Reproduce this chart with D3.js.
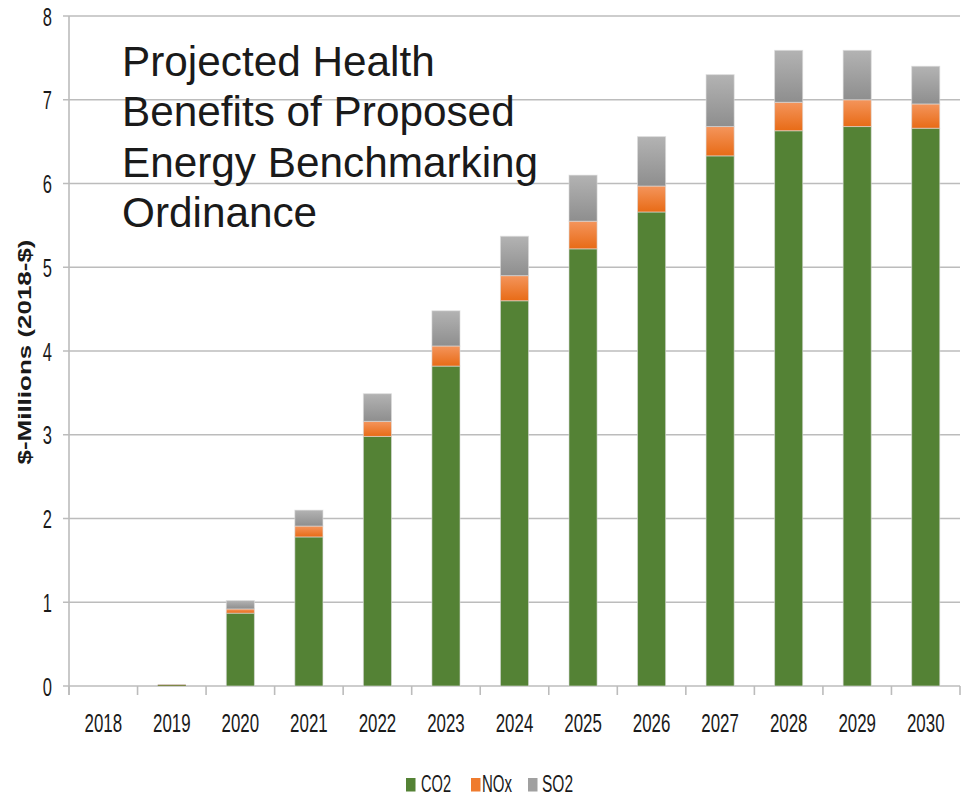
<!DOCTYPE html>
<html>
<head>
<meta charset="utf-8">
<script src="https://cdn.jsdelivr.net/npm/d3@7"></script>
<style>
  html, body { margin: 0; padding: 0; background: #fff; }
  svg { display: block; }
  text { font-family: "Liberation Sans", Arial, sans-serif; fill: #1a1a1a; }
</style>
</head>
<body>
<svg id="chart" width="961" height="800"></svg>
<script>
// ---- Data ----
const years = ["2018","2019","2020","2021","2022","2023","2024","2025","2026","2027","2028","2029","2030"];
const co2 = [0, 0.01, 0.87, 1.78, 2.98, 3.82, 4.60, 5.22, 5.66, 6.33, 6.63, 6.68, 6.66];
const nox = [0, 0.005, 0.05, 0.13, 0.18, 0.24, 0.30, 0.33, 0.31, 0.35, 0.34, 0.32, 0.29];
const so2 = [0, 0.005, 0.10, 0.19, 0.33, 0.42, 0.47, 0.55, 0.59, 0.62, 0.62, 0.59, 0.45];
const seriesNames = ["CO2", "NOx", "SO2"];
const yTicks = [0, 1, 2, 3, 4, 5, 6, 7, 8];
const titleLines = ["Projected Health", "Benefits of Proposed", "Energy Benchmarking", "Ordinance"];
const yTitle = "$-Millions (2018-$)";

(function () {
// ---- Setup ----
const svg = d3.select("#chart");
const pLeft = 69, pRight = 960, pTop = 16, pBottom = 686;
const gridColor = "#bcbcbc";

const x = d3.scaleBand().domain(years).range([pLeft, pRight]).paddingInner(0.59).paddingOuter(0.295);
const y = d3.scaleLinear().domain([0, 8]).range([pBottom, pTop]);

const defs = svg.append("defs");
function grad(id, c1, c2) {
  const g = defs.append("linearGradient").attr("id", id).attr("x1", 0).attr("y1", 0).attr("x2", 0).attr("y2", 1);
  g.append("stop").attr("offset", "0%").attr("stop-color", c1);
  g.append("stop").attr("offset", "100%").attr("stop-color", c2);
}
grad("gCO2", "#548235", "#548235");
grad("gNOx", "#f4955c", "#e86b16");
grad("gSO2", "#b3b3b3", "#8e8e8e");
const fills = {CO2: "url(#gCO2)", NOx: "url(#gNOx)", SO2: "url(#gSO2)"};
const legendColors = {CO2: "#548235", NOx: "#ef7b2e", SO2: "#a0a0a0"};

// gridlines
svg.append("g").selectAll("line").data(yTicks).join("line")
  .attr("x1", pLeft - 6).attr("x2", pRight)
  .attr("y1", d => y(d)).attr("y2", d => y(d))
  .attr("stroke", gridColor).attr("stroke-width", 1.6);

// y axis
const yAxis = svg.append("g").attr("transform", `translate(${pLeft},0)`)
  .call(d3.axisLeft(y).tickValues(yTicks).tickSize(0).tickFormat(d3.format("d")));
yAxis.select(".domain").remove();
yAxis.selectAll("text")
  .attr("x", 0).attr("dy", null).attr("y", 9)
  .attr("text-anchor", "end")
  .attr("font-size", 25)
  .attr("font-family", "Liberation Sans, Arial, sans-serif")
  .attr("fill", "#1a1a1a")
  .attr("transform", "translate(-17,0) scale(0.66,1)");
svg.append("line").attr("x1", pLeft).attr("x2", pLeft).attr("y1", pTop).attr("y2", pBottom + 9)
  .attr("stroke", gridColor).attr("stroke-width", 1.6);

// x axis
const step = x.step();
const boundaries = d3.range(years.length + 1).map(i => pLeft + i * step);
svg.append("g").selectAll("line").data(boundaries).join("line")
  .attr("x1", d => d).attr("x2", d => d).attr("y1", pBottom).attr("y2", pBottom + 9)
  .attr("stroke", gridColor).attr("stroke-width", 1.6);
const xAxis = svg.append("g").attr("transform", `translate(0,${pBottom})`)
  .call(d3.axisBottom(x).tickSize(0));
xAxis.select(".domain").remove();
xAxis.selectAll("text")
  .attr("y", 46).attr("dy", null)
  .attr("font-size", 26)
  .attr("font-family", "Liberation Sans, Arial, sans-serif")
  .attr("fill", "#1a1a1a")
  .attr("transform", "scale(0.65,1)");

// stacked bars
const table = years.map((yr, i) => ({year: yr, CO2: co2[i], NOx: nox[i], SO2: so2[i]}));
const stack = d3.stack().keys(seriesNames)(table);
svg.append("g").selectAll("g").data(stack).join("g")
  .attr("fill", d => fills[d.key])
  .selectAll("rect").data(d => d).join("rect")
  .attr("x", d => x(d.data.year))
  .attr("width", x.bandwidth())
  .attr("y", d => y(d[1]))
  .attr("height", d => Math.max(0, y(d[0]) - y(d[1])))
  .attr("stroke", "rgba(220,220,220,0.6)")
  .attr("stroke-width", d => (y(d[0]) - y(d[1])) > 3 ? 1 : 0);

// y title
svg.append("text")
  .attr("transform", "translate(31,352) rotate(-90)")
  .attr("text-anchor", "middle")
  .attr("font-size", 17.5)
  .attr("font-weight", "bold")
  .attr("textLength", 225)
  .attr("lengthAdjust", "spacingAndGlyphs")
  .text(yTitle);

// title
svg.append("g").selectAll("text").data(titleLines).join("text")
  .attr("x", 122).attr("y", (d, i) => 76 + i * 50.3)
  .attr("font-size", 42.3)
  .attr("fill", "#000")
  .text(d => d);

// legend
const legendItems = [
  {key: "CO2", sx: 406, tx: 421, tw: 30},
  {key: "NOx", sx: 471, tx: 482, tw: 30},
  {key: "SO2", sx: 528, tx: 542, tw: 31}
];
const lg = svg.append("g");
lg.selectAll("rect").data(legendItems).join("rect")
  .attr("x", d => d.sx).attr("y", 778).attr("width", 9.5).attr("height", 13.5)
  .attr("fill", d => legendColors[d.key]);
lg.selectAll("text").data(legendItems).join("text")
  .attr("x", d => d.tx).attr("y", 792)
  .attr("font-size", 23)
  .attr("textLength", d => d.tw)
  .attr("lengthAdjust", "spacingAndGlyphs")
  .text(d => d.key);
})();
</script>
</body>
</html>
